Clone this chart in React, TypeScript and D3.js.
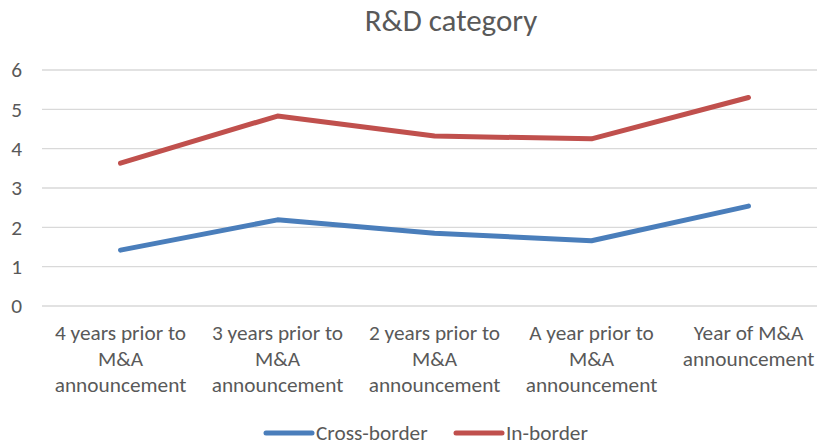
import React, { useEffect, useRef } from 'react';
import * as d3 from 'd3';

const categories = [
  ['4 years prior to', 'M&A', 'announcement'],
  ['3 years prior to', 'M&A', 'announcement'],
  ['2 years prior to', 'M&A', 'announcement'],
  ['A year prior to', 'M&A', 'announcement'],
  ['Year of M&A', 'announcement'],
];
const crossBorder = [1.42, 2.19, 1.85, 1.66, 2.54];
const inBorder = [3.63, 4.83, 4.32, 4.25, 5.3];
const yTicks = [0, 1, 2, 3, 4, 5, 6];
const seriesNames = ['Cross-border', 'In-border'];
const seriesColors = ['#4a7ebb', '#c0504d'];

const WIDTH = 817;
const HEIGHT = 445;
const FONT = 'Carlito, Calibri, "Liberation Sans", sans-serif';
const LABEL_SIZE = 21.3;

const App: React.FC = () => {
  const svgRef = useRef<SVGSVGElement>(null);

  useEffect(() => {
    if (!svgRef.current) return;
    const svg = d3.select(svgRef.current);
    svg.selectAll('*').remove();

    const left = 42;
    const right = 827;
    const top = 70;
    const bottom = 306;

    const x = d3.scaleBand<number>()
      .domain(d3.range(categories.length))
      .range([left, right]);
    const y = d3.scaleLinear().domain([0, 6]).range([bottom, top]);

    // title
    svg.append('text')
      .attr('x', 451)
      .attr('y', 31)
      .attr('text-anchor', 'middle')
      .attr('font-family', FONT)
      .attr('font-size', 31)
      .attr('fill', '#595959')
      .text('R&D category');

    // gridlines
    svg.append('g')
      .selectAll('line')
      .data(yTicks)
      .enter()
      .append('line')
      .attr('x1', left)
      .attr('x2', right)
      .attr('y1', d => y(d))
      .attr('y2', d => y(d))
      .attr('stroke', '#d9d9d9')
      .attr('stroke-width', 1.3);

    // y labels
    svg.append('g')
      .selectAll('text')
      .data(yTicks)
      .enter()
      .append('text')
      .attr('x', 22)
      .attr('y', d => y(d))
      .attr('dy', '0.35em')
      .attr('text-anchor', 'end')
      .attr('font-family', FONT)
      .attr('font-size', LABEL_SIZE)
      .attr('fill', '#595959')
      .text(d => d);

    // x labels
    const xl = svg.append('g')
      .selectAll('text')
      .data(categories)
      .enter()
      .append('text')
      .attr('text-anchor', 'middle')
      .attr('font-family', FONT)
      .attr('font-size', LABEL_SIZE)
      .attr('fill', '#595959');
    xl.each(function (lines, i) {
      const t = d3.select(this);
      lines.forEach((ln, j) => {
        t.append('tspan')
          .attr('x', (x(i) as number) + x.bandwidth() / 2)
          .attr('y', 340 + j * 26)
          .text(ln);
      });
    });

    // lines
    const line = d3.line<number>()
      .x((_, i) => (x(i) as number) + x.bandwidth() / 2)
      .y(d => y(d));
    [crossBorder, inBorder].forEach((s, k) => {
      svg.append('path')
        .datum(s)
        .attr('d', line)
        .attr('fill', 'none')
        .attr('stroke', seriesColors[k])
        .attr('stroke-width', 5)
        .attr('stroke-linecap', 'round')
        .attr('stroke-linejoin', 'round');
    });

    // legend
    const legendX = [264, 454];
    seriesNames.forEach((name, k) => {
      const g = svg.append('g').attr('transform', `translate(${legendX[k]},433)`);
      g.append('line')
        .attr('x1', 2)
        .attr('x2', 48)
        .attr('stroke', seriesColors[k])
        .attr('stroke-width', 5)
        .attr('stroke-linecap', 'round');
      g.append('text')
        .attr('x', 52)
        .attr('dy', '0.35em')
        .attr('font-family', FONT)
        .attr('font-size', LABEL_SIZE)
        .attr('fill', '#595959')
        .text(name);
    });
  }, []);

  return (
    <svg
      ref={svgRef}
      width={WIDTH}
      height={HEIGHT}
      style={{ position: 'absolute', left: 0, top: 0, background: '#fff' }}
    />
  );
};

export default App;
